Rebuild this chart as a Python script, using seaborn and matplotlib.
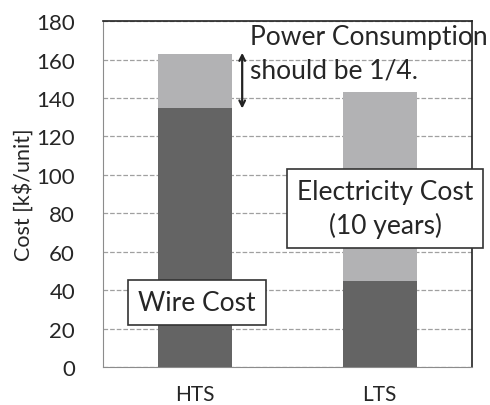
import matplotlib
matplotlib.use('Agg')
import matplotlib.pyplot as plt
import seaborn as sns
import pandas as pd

# Cost data (k$/unit)
categories = ['HTS', 'LTS']
wire_cost = [135, 45]
total_cost = [163, 143]
y_ticks = [0, 20, 40, 60, 80, 100, 120, 140, 160, 180]

sns.set_style('white')
plt.rcParams['font.family'] = ['Lato', 'DejaVu Sans']

df = pd.DataFrame({'tech': categories, 'wire': wire_cost, 'total': total_cost})

fig = plt.figure(figsize=(4.9, 4.06), dpi=100)
ax = fig.add_axes([0.210, 0.0936, 0.753, 0.852])

# Total (wire + electricity) first, wire cost drawn on top
sns.barplot(data=df, x='tech', y='total', color='#b2b2b4', width=0.4,
            saturation=1, linewidth=0, ax=ax, zorder=2)
sns.barplot(data=df, x='tech', y='wire', color='#646464', width=0.4,
            saturation=1, linewidth=0, ax=ax, zorder=3)

ax.set_xlim(-0.5, 1.5)
ax.set_ylim(0, 180)
ax.set_yticks(y_ticks)
ax.yaxis.grid(True, linestyle='--', color='#a0a0a0', lw=0.9, zorder=0)
ax.set_axisbelow(True)

ax.set_xlabel('')
ax.set_ylabel('Cost [k$/unit]', fontsize=15.5, labelpad=2)

# Excel-style category ticks at boundaries
ax.set_xticks([-0.5, 0.5, 1.5], minor=True)
ax.tick_params(axis='x', which='major', length=0, pad=12, labelsize=15)
ax.tick_params(axis='x', which='minor', length=6, color='#999999', width=1)
ax.tick_params(axis='y', length=5, color='#999999', width=1, pad=15, labelsize=16)

for side in ['left', 'bottom']:
    ax.spines[side].set_color('#8c8c8c')
for side in ['top', 'right']:
    ax.spines[side].set_color('#222222')
    ax.spines[side].set_linewidth(1.2)

box = dict(boxstyle='square,pad=0.38', facecolor='white', edgecolor='#333333', lw=1.2)
ax.text(0.01, 33.8, 'Wire Cost', ha='center', va='center', fontsize=19,
        bbox=box, zorder=5)
ax.text(1.03, 82.5, 'Electricity Cost\n(10 years)', ha='center', va='center',
        fontsize=19, linespacing=1.4, bbox=box, zorder=5, clip_on=False)

ax.text(0.298, 178.5, 'Power Consumption\nshould be 1/4.', ha='left', va='top',
        fontsize=19, linespacing=1.45, zorder=5, clip_on=False)
ax.annotate('', xy=(0.255, 163.5), xytext=(0.255, 134.5),
            arrowprops=dict(arrowstyle='<->', lw=1.6, color='#222222',
                            shrinkA=0, shrinkB=0), zorder=5)

plt.savefig('out.png', dpi=100)
